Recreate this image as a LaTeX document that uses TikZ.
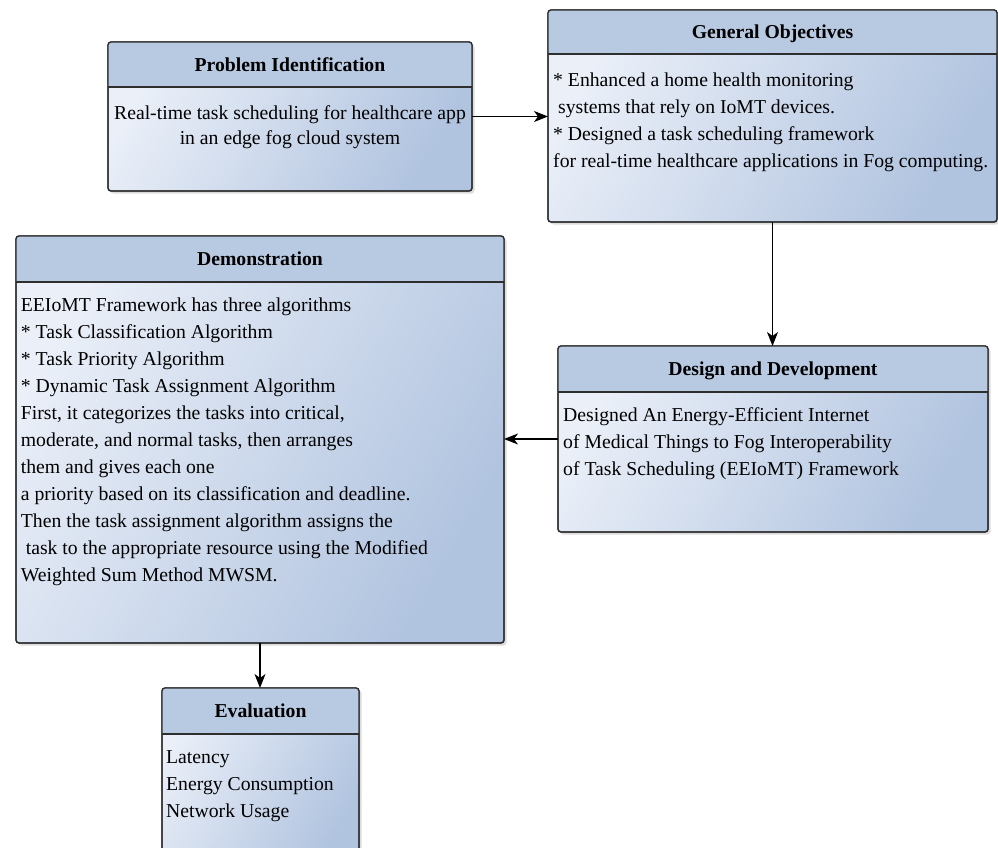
\documentclass[tikz,border=0pt]{standalone}
\usepackage{fontspec}
\setmainfont{Liberation Serif}
\usetikzlibrary{shadows,arrows.meta}

\definecolor{hdrblue}{HTML}{B8C9E2}
\definecolor{bodylight}{HTML}{EAEFF8}
\definecolor{bodydark}{HTML}{B0C3DF}
\definecolor{edgegrey}{HTML}{2E2E2E}

\tikzset{
  panel/.style={draw=edgegrey, line width=1.3pt, rounded corners=3pt,
    outer sep=0pt, inner sep=0pt, anchor=north west,
    top color=bodylight, bottom color=bodydark, shading angle=60,
    drop shadow={opacity=0.28, shadow xshift=2.5pt, shadow yshift=-2.5pt}},
  paneltitle/.style={anchor=base, inner sep=0pt,
    font=\fontsize{19.7}{27}\selectfont\bfseries},
  paneltext/.style={inner sep=0pt, align=left,
    font=\fontsize{19.7}{27}\selectfont},
  flow/.style={-{Stealth[length=14pt,width=11pt,inset=4pt]}, line width=1.3pt, black},
}

% header band, outline and divider of a panel: #1 node name, #2 band height (pt)
\newcommand\panelhead[2]{%
  \begin{scope}
    \clip[rounded corners=3pt] (#1.north west) rectangle (#1.south east);
    \fill[hdrblue] (#1.north west) rectangle ([yshift=-#2pt]#1.north east);
  \end{scope}
  \draw[edgegrey, line width=1.3pt, rounded corners=3pt]
    (#1.north west) rectangle (#1.south east);
  \draw[edgegrey, line width=1.3pt]
    ([yshift=-#2pt]#1.north west) -- ([yshift=-#2pt]#1.north east);
}

\begin{document}
\begin{tikzpicture}[x=1pt,y=1pt]
\useasboundingbox (0,0) rectangle (998,-848);
\clip (0,0) rectangle (998,-848);

% panels
\node[panel, minimum width=364pt, minimum height=149pt] (prob) at (108,-42) {};
\panelhead{prob}{45}
\node[panel, minimum width=449pt, minimum height=212pt] (go) at (548,-10) {};
\panelhead{go}{44}
\node[panel, minimum width=488pt, minimum height=407pt] (demo) at (16,-236) {};
\panelhead{demo}{46}
\node[panel, minimum width=430pt, minimum height=186pt] (dd) at (558,-346) {};
\panelhead{dd}{46}
\node[panel, minimum width=197pt, minimum height=180pt] (eval) at (162,-688) {};
\panelhead{eval}{46}

% titles
\node[paneltitle] (probtitle) at (290,-71.2) {Problem Identification};
\node[paneltitle] (gotitle) at (772.5,-38.7) {General Objectives};
\node[paneltitle] (demotitle) at (260,-265.7) {Demonstration};
\node[paneltitle] (ddtitle) at (773,-375.7) {Design and Development};
\node[paneltitle] (evaltitle) at (260.5,-717.7) {Evaluation};

% contents
\node[paneltext, align=center, anchor=north, font=\fontsize{19.7}{25.5}\selectfont]
  (probtext) at (290,-105.3) {Real-time task scheduling for healthcare app\\in an edge fog cloud system};
\node[paneltext, anchor=north west] (gotext) at (553,-72.5)
  {* Enhanced a home health monitoring\\
   \ systems that rely on IoMT devices.\\
   * Designed a task scheduling framework\\
   for real-time healthcare applications in Fog computing.};
\node[paneltext, anchor=north west] (demotext) at (20.7,-297.7)
  {EEIoMT Framework has three algorithms\\
   * Task Classification Algorithm\\
   * Task Priority Algorithm\\
   * Dynamic Task Assignment Algorithm\\
   First, it categorizes the tasks into critical,\\
   moderate, and normal tasks, then arranges\\
   them and gives each one\\
   a priority based on its classification and deadline.\\
   Then the task assignment algorithm assigns the\\
   \ task to the appropriate resource using the Modified\\
   Weighted Sum Method MWSM.};
\node[paneltext, anchor=north west] (ddtext) at (563,-407)
  {Designed An Energy-Efficient Internet\\
   of Medical Things to Fog Interoperability\\
   of Task Scheduling (EEIoMT) Framework};
\node[paneltext, anchor=north west] (evaltext) at (166,-750.7)
  {Latency\\Energy Consumption\\Network Usage};

% connectors
\draw[flow] (prob.east) -- (prob.east -| go.west);
\draw[flow] (go.south) -- (go.south |- dd.north);
\draw[flow] (dd.west) -- (dd.west -| demo.east);
\draw[flow] (demo.south) -- (demo.south |- eval.north);
\end{tikzpicture}
\end{document}
